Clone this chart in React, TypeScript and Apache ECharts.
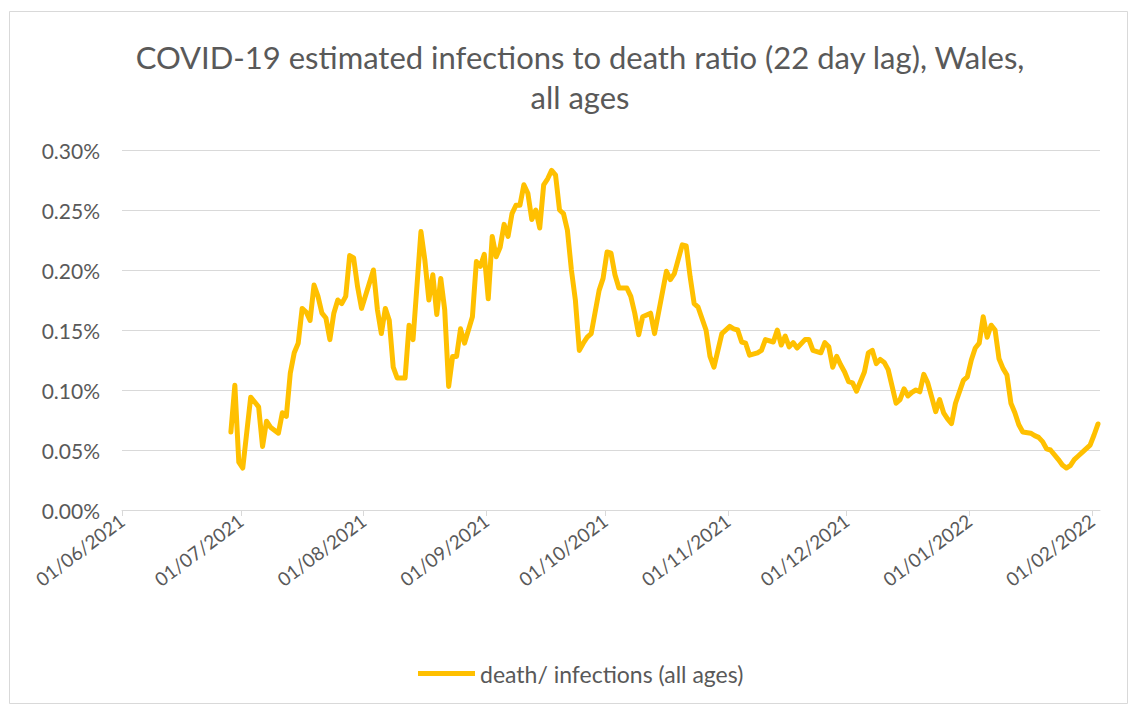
import React, { useEffect, useRef } from "react";
import * as echarts from "echarts";

const TITLE_LINES = [
  "COVID-19 estimated infections to death ratio (22 day lag), Wales,",
  "all ages",
];
const SERIES_NAME = "death/ infections (all ages)";
const AXIS_START = "2021-06-01";
const AXIS_END = "2022-02-03";
const Y_MIN = 0;
const Y_MAX = 0.3;
const Y_STEP = 0.05;

// dates of the points (daily series)
const dates = [
  "2021-06-28", "2021-06-29", "2021-06-30", "2021-07-01", "2021-07-03", "2021-07-05",
  "2021-07-06", "2021-07-07", "2021-07-08", "2021-07-10", "2021-07-11", "2021-07-12",
  "2021-07-13", "2021-07-14", "2021-07-15", "2021-07-16", "2021-07-17", "2021-07-18",
  "2021-07-19", "2021-07-20", "2021-07-21", "2021-07-22", "2021-07-23", "2021-07-24",
  "2021-07-25", "2021-07-26", "2021-07-27", "2021-07-28", "2021-07-29", "2021-07-30",
  "2021-07-31", "2021-08-03", "2021-08-04", "2021-08-05", "2021-08-06", "2021-08-07",
  "2021-08-08", "2021-08-09", "2021-08-11", "2021-08-12", "2021-08-13", "2021-08-15",
  "2021-08-16", "2021-08-17", "2021-08-18", "2021-08-19", "2021-08-20", "2021-08-21",
  "2021-08-22", "2021-08-23", "2021-08-24", "2021-08-25", "2021-08-26", "2021-08-28",
  "2021-08-29", "2021-08-30", "2021-08-31", "2021-09-01", "2021-09-02", "2021-09-03",
  "2021-09-04", "2021-09-05", "2021-09-06", "2021-09-07", "2021-09-08", "2021-09-09",
  "2021-09-10", "2021-09-11", "2021-09-12", "2021-09-13", "2021-09-14", "2021-09-15",
  "2021-09-16", "2021-09-17", "2021-09-18", "2021-09-19", "2021-09-20", "2021-09-21",
  "2021-09-22", "2021-09-23", "2021-09-24", "2021-09-25", "2021-09-26", "2021-09-27",
  "2021-09-29", "2021-09-30", "2021-10-01", "2021-10-02", "2021-10-03", "2021-10-04",
  "2021-10-06", "2021-10-07", "2021-10-08", "2021-10-09", "2021-10-10", "2021-10-12",
  "2021-10-13", "2021-10-16", "2021-10-17", "2021-10-18", "2021-10-20", "2021-10-21",
  "2021-10-22", "2021-10-23", "2021-10-24", "2021-10-26", "2021-10-27", "2021-10-28",
  "2021-10-29", "2021-10-30", "2021-11-01", "2021-11-02", "2021-11-03", "2021-11-04",
  "2021-11-05", "2021-11-06", "2021-11-08", "2021-11-09", "2021-11-10", "2021-11-12",
  "2021-11-13", "2021-11-14", "2021-11-15", "2021-11-16", "2021-11-17", "2021-11-18",
  "2021-11-20", "2021-11-21", "2021-11-22", "2021-11-24", "2021-11-25", "2021-11-26",
  "2021-11-27", "2021-11-28", "2021-11-29", "2021-11-30", "2021-12-01", "2021-12-02",
  "2021-12-03", "2021-12-05", "2021-12-06", "2021-12-07", "2021-12-08", "2021-12-09",
  "2021-12-10", "2021-12-11", "2021-12-12", "2021-12-13", "2021-12-14", "2021-12-15",
  "2021-12-16", "2021-12-17", "2021-12-18", "2021-12-19", "2021-12-20", "2021-12-21",
  "2021-12-22", "2021-12-23", "2021-12-24", "2021-12-25", "2021-12-26", "2021-12-27",
  "2021-12-28", "2021-12-30", "2021-12-31", "2022-01-01", "2022-01-02", "2022-01-03",
  "2022-01-04", "2022-01-05", "2022-01-06", "2022-01-07", "2022-01-08", "2022-01-09",
  "2022-01-10", "2022-01-11", "2022-01-12", "2022-01-13", "2022-01-14", "2022-01-16",
  "2022-01-17", "2022-01-18", "2022-01-19", "2022-01-20", "2022-01-21", "2022-01-23",
  "2022-01-24", "2022-01-25", "2022-01-26", "2022-01-27", "2022-01-28", "2022-01-29",
  "2022-01-31", "2022-02-01", "2022-02-02",
];

// ratio in percent
const ratioPct = [
  0.065, 0.104, 0.040, 0.035, 0.094, 0.086,
  0.053, 0.074, 0.069, 0.064, 0.081, 0.078,
  0.114, 0.131, 0.139, 0.168, 0.165, 0.158,
  0.1875, 0.178, 0.164, 0.160, 0.142, 0.164,
  0.175, 0.172, 0.178, 0.212, 0.210, 0.186,
  0.168, 0.200, 0.167, 0.147, 0.168, 0.158,
  0.119, 0.110, 0.110, 0.154, 0.142, 0.232,
  0.208, 0.175, 0.196, 0.163, 0.193, 0.167,
  0.103, 0.128, 0.128, 0.151, 0.139, 0.161,
  0.207, 0.203, 0.213, 0.176, 0.228, 0.211,
  0.219, 0.238, 0.228, 0.247, 0.254, 0.254,
  0.271, 0.264, 0.242, 0.250, 0.235, 0.271,
  0.276, 0.283, 0.279, 0.250, 0.247, 0.233,
  0.200, 0.175, 0.133, 0.139, 0.144, 0.147,
  0.183, 0.193, 0.215, 0.214, 0.196, 0.185,
  0.185, 0.178, 0.164, 0.146, 0.161, 0.164,
  0.147, 0.199, 0.192, 0.197, 0.221, 0.220,
  0.194, 0.172, 0.169, 0.150, 0.128, 0.119,
  0.133, 0.147, 0.153, 0.151, 0.150, 0.140,
  0.139, 0.129, 0.131, 0.133, 0.142, 0.140,
  0.150, 0.1375, 0.145, 0.136, 0.1395, 0.135,
  0.142, 0.142, 0.133, 0.131, 0.1395, 0.136,
  0.119, 0.128, 0.121, 0.115, 0.107, 0.106,
  0.099, 0.115, 0.131, 0.133, 0.122, 0.1255,
  0.123, 0.117, 0.103, 0.089, 0.092, 0.101,
  0.095, 0.098, 0.100, 0.0985, 0.113, 0.106,
  0.094, 0.082, 0.092, 0.081, 0.076, 0.072,
  0.089, 0.108, 0.111, 0.125, 0.135, 0.139,
  0.161, 0.144, 0.154, 0.150, 0.126, 0.118,
  0.1125, 0.089, 0.081, 0.071, 0.065, 0.064,
  0.062, 0.0605, 0.057, 0.051, 0.050, 0.042,
  0.0375, 0.035, 0.037, 0.042, 0.045, 0.048,
  0.054, 0.0625, 0.0717,
];

const FONT = "Lato, 'Open Sans', sans-serif";
const TEXT_COLOR = "#595959";
const GRID_COLOR = "#d9d9d9";
const LINE_COLOR = "#FFC000";

function toLocalTime(s: string, hour = 0): number {
  const [y, m, d] = s.split("-").map(Number);
  return new Date(y, m - 1, d, hour).getTime();
}

function pad(n: number): string {
  return n < 10 ? "0" + n : String(n);
}

export default function App() {
  const ref = useRef<HTMLDivElement>(null);

  useEffect(() => {
    if (!ref.current) return;
    const chart = echarts.init(ref.current, undefined, { renderer: "svg" });
    const DAY = 86400000;
    const seriesData = dates.map((d, i) => [toLocalTime(d, 12), ratioPct[i]]);

    chart.setOption({
      animation: false,
      backgroundColor: "#ffffff",
      title: {
        text: TITLE_LINES.join("\n"),
        left: 580,
        top: 37,
        padding: 0,
        textAlign: "center",
        textStyle: {
          fontFamily: FONT,
          fontSize: 31,
          fontWeight: "normal",
          color: TEXT_COLOR,
          lineHeight: 40,
        },
      },
      legend: {
        left: 418,
        top: 662,
        padding: 0,
        icon: "rect",
        itemWidth: 57,
        itemHeight: 5,
        textStyle: { fontFamily: FONT, fontSize: 23, color: TEXT_COLOR },
        data: [SERIES_NAME],
      },
      grid: { left: 122, right: 36, top: 150, bottom: 199, containLabel: false },
      xAxis: {
        type: "time",
        min: toLocalTime(AXIS_START),
        max: toLocalTime(AXIS_END),
        splitNumber: 8,
        minInterval: 28 * DAY,
        maxInterval: 31 * DAY,
        axisLine: { show: true, lineStyle: { color: GRID_COLOR, width: 1 } },
        axisTick: { show: true, length: 6, lineStyle: { color: GRID_COLOR } },
        splitLine: { show: false },
        minorTick: { show: false },
        axisLabel: {
          rotate: 37,
          margin: 8,
          hideOverlap: false,
          showMaxLabel: false,
          showMinLabel: true,
          fontFamily: FONT,
          fontSize: 19,
          color: TEXT_COLOR,
          formatter: (val: number) => {
            const d = new Date(val);
            if (d.getDate() !== 1) return "";
            return pad(d.getDate()) + "/" + pad(d.getMonth() + 1) + "/" + d.getFullYear();
          },
        },
      },
      yAxis: {
        type: "value",
        min: Y_MIN,
        max: Y_MAX,
        interval: Y_STEP,
        axisLine: { show: false },
        axisTick: { show: false },
        splitLine: { show: true, lineStyle: { color: GRID_COLOR, width: 1 } },
        axisLabel: {
          margin: 22,
          fontFamily: FONT,
          fontSize: 21,
          color: TEXT_COLOR,
          formatter: (v: number) => v.toFixed(2) + "%",
        },
      },
      series: [
        {
          name: SERIES_NAME,
          type: "line",
          data: seriesData,
          showSymbol: false,
          symbol: "none",
          color: LINE_COLOR,
          lineStyle: { color: LINE_COLOR, width: 5, cap: "round", join: "round" },
        },
      ],
      graphic: [
        {
          type: "rect",
          shape: { x: 9.5, y: 11.5, width: 1118, height: 692 },
          style: { fill: "none", stroke: GRID_COLOR, lineWidth: 1 },
          silent: true,
          z: -1,
        },
      ],
    });

    return () => chart.dispose();
  }, []);

  return (
    <div
      ref={ref}
      style={{ position: "absolute", left: 0, top: 0, width: 1136, height: 709 }}
    />
  );
}
